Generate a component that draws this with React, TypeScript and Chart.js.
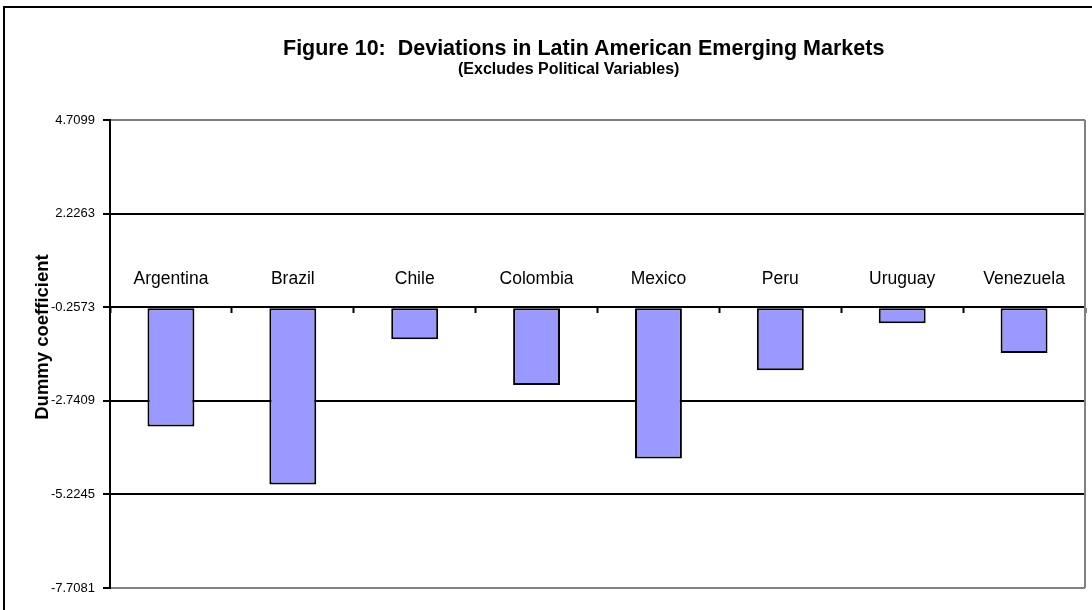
import React, { useEffect, useRef } from "react";
import { Chart, registerables } from "chart.js";

Chart.register(...registerables);

const categories = ["Argentina", "Brazil", "Chile", "Colombia", "Mexico", "Peru", "Uruguay", "Venezuela"];
const dummyCoefficients = [-3.42, -4.96, -1.11, -2.32, -4.27, -1.93, -0.68, -1.47];
const barBase = -0.2573;
const yTickValues = [-7.7081, -5.2245, -2.7409, -0.2573, 2.2263, 4.7099];
const yTickLabels = ["-7.7081", "-5.2245", "-2.7409", "-0.2573", "2.2263", "4.7099"];
const titleText = "Figure 10:  Deviations in Latin American Emerging Markets";
const subtitleText = "(Excludes Political Variables)";
const yAxisTitle = "Dummy coefficient";

const FONT = "'Liberation Sans', Arial, Helvetica, sans-serif";

export default function App() {
  const canvasRef = useRef<HTMLCanvasElement | null>(null);

  useEffect(() => {
    const canvas = canvasRef.current;
    if (!canvas) return;

    const plotFrame = {
      id: "plotFrame",
      beforeDatasetsDraw(chart: any) {
        const { ctx, chartArea } = chart;
        ctx.save();
        ctx.strokeStyle = "#808080";
        ctx.lineWidth = 2;
        ctx.beginPath();
        ctx.moveTo(chartArea.right, chartArea.top);
        ctx.lineTo(chartArea.right, chartArea.bottom);
        ctx.stroke();
        ctx.restore();
      },
    };

    const chart = new Chart(canvas, {
      type: "bar",
      data: {
        labels: categories,
        datasets: [
          {
            data: dummyCoefficients,
            base: barBase,
            backgroundColor: "#9999FF",
            borderColor: "#000000",
            borderWidth: 2,
            borderSkipped: false,
            barPercentage: 0.385,
            categoryPercentage: 1,
          } as any,
        ],
      },
      options: {
        responsive: false,
        animation: false,
        devicePixelRatio: 1,
        layout: { padding: { left: 0, top: 120, right: 7, bottom: 22 } },
        plugins: {
          legend: { display: false },
          title: { display: false },
          tooltip: { enabled: false },
        },
        scales: {
          x: {
            type: "category",
            position: { y: barBase } as any,
            grid: {
              display: true,
              drawOnChartArea: false,
              drawTicks: true,
              tickLength: 5,
              tickColor: "#000000",
              tickWidth: 2,
              offset: true,
            },
            border: { display: true, color: "#000000", width: 2 },
            ticks: {
              color: "#000000",
              font: { family: FONT, size: 17.5 },
              padding: -44,
              maxRotation: 0,
              autoSkip: false,
            },
          },
          y: {
            type: "linear",
            position: "left",
            min: yTickValues[0],
            max: yTickValues[yTickValues.length - 1],
            afterBuildTicks: (scale: any) => {
              scale.ticks = yTickValues.map((v) => ({ value: v }));
            },
            afterFit: (scale: any) => {
              scale.width = 110;
            },
            grid: {
              color: (ctx: any) =>
                ctx.index === 0 || ctx.index === yTickValues.length - 1 ? "#808080" : "#000000",
              lineWidth: 2,
              tickColor: "#000000",
              tickLength: 7,
              tickWidth: 2,
            },
            border: { display: true, color: "#000000", width: 2 },
            ticks: {
              color: "#000000",
              font: { family: FONT, size: 13 },
              padding: 8,
              callback: (_v: any, i: number) => yTickLabels[i],
            },
          },
        },
      },
      plugins: [plotFrame],
    });

    return () => chart.destroy();
  }, []);

  return (
    <div
      style={{
        position: "absolute",
        left: 0,
        top: 0,
        width: 1092,
        height: 610,
        background: "#ffffff",
        overflow: "hidden",
        fontFamily: FONT,
      }}
    >
      <canvas ref={canvasRef} width={1092} height={610} style={{ display: "block", position: "absolute", left: 0, top: 0 }} />
      <div
        style={{
          position: "absolute",
          left: 3,
          top: 6,
          width: 1200,
          height: 700,
          borderLeft: "2px solid #000",
          borderTop: "2px solid #000",
          pointerEvents: "none",
        }}
      />
      <div
        style={{
          position: "absolute",
          left: 283,
          top: 37.6,
          fontSize: 21.5,
          lineHeight: "21.5px",
          fontWeight: "bold",
          whiteSpace: "pre",
          color: "#000",
        }}
      >
        {titleText}
      </div>
      <div
        style={{
          position: "absolute",
          left: 458,
          top: 60.5,
          fontSize: 16,
          lineHeight: "16px",
          fontWeight: "bold",
          whiteSpace: "pre",
          color: "#000",
        }}
      >
        {subtitleText}
      </div>
      <div
        style={{
          position: "absolute",
          left: 41.6,
          top: 336.5,
          fontSize: 18.5,
          lineHeight: "18.5px",
          fontWeight: "bold",
          whiteSpace: "nowrap",
          color: "#000",
          transform: "translate(-50%, -50%) rotate(-90deg)",
        }}
      >
        {yAxisTitle}
      </div>
    </div>
  );
}
